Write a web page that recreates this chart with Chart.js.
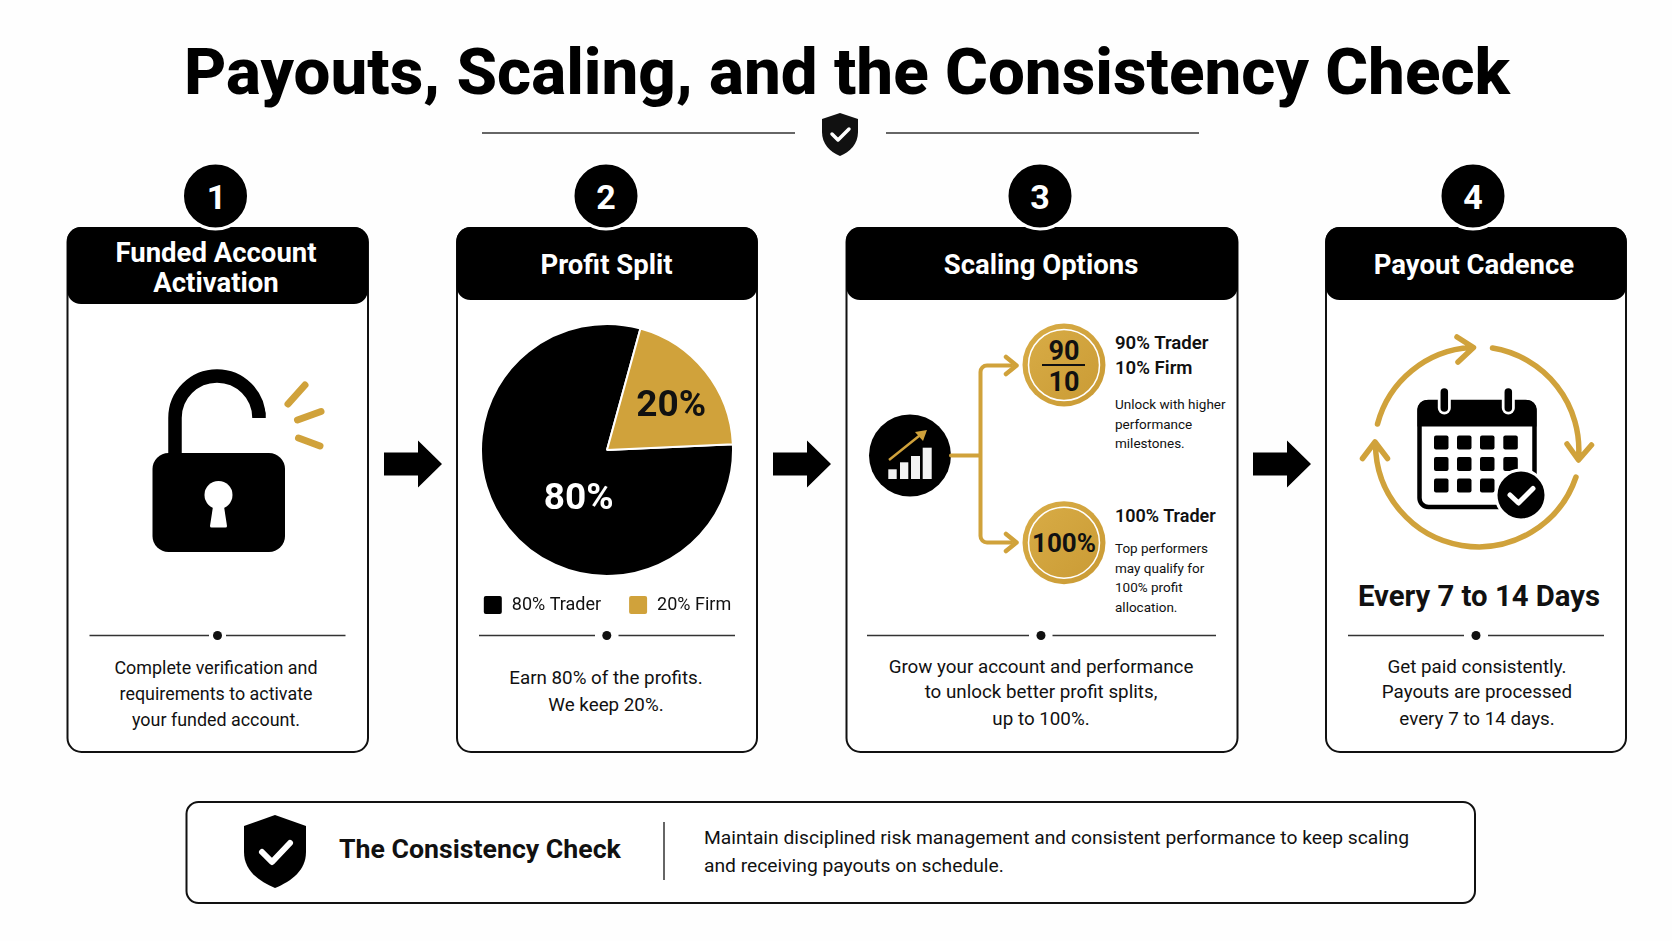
<!DOCTYPE html>
<html><head><meta charset="utf-8">
<script src="https://cdn.jsdelivr.net/npm/chart.js@4"></script>
<style>
html,body{margin:0;padding:0;background:#fff;width:1672px;height:941px;overflow:hidden}
#art{position:absolute;left:0;top:0}
#pieWrap{position:absolute;left:437px;top:322.5px;width:340px;height:311px}
text{font-family:Roboto,Inter,sans-serif;fill:#111;dominant-baseline:central}
.c{text-anchor:middle}
.title{font-size:65.5px;font-weight:800;fill:#000}
.hd{font-size:27.5px;font-weight:700;fill:#fff}
.num{font-size:34px;font-weight:700;fill:#fff}
.d{font-size:18.8px;font-weight:400}
.d1{font-size:17.9px;font-weight:400}
.sb{font-size:18.6px;font-weight:600}
.sm{font-size:13.5px;font-weight:400}
.gold{fill:none;stroke:#D0A23B;stroke-linecap:round;stroke-linejoin:round}
.card{fill:#fff;stroke:#111;stroke-width:2}
.dv{stroke:#333;stroke-width:1.5}
</style></head><body>
<svg id="art" width="1672" height="941" viewBox="0 0 1672 941" xmlns="http://www.w3.org/2000/svg">
<defs><linearGradient id="gg" x1="0" y1="0" x2="1" y2="1"><stop offset="0" stop-color="#D9AD47"/><stop offset="1" stop-color="#C99A34"/></linearGradient></defs>
<rect width="1672" height="941" fill="#fefefe"/>
<text class="title c" x="847" y="71">Payouts, Scaling, and the Consistency Check</text>
<line class="dv" x1="482" y1="133" x2="795" y2="133"/><line class="dv" x1="886" y1="133" x2="1199" y2="133"/>
<path d="M840 113l18 6v13c0 12-8 20-18 24c-10-4-18-12-18-24v-13z" fill="#111"/>
<path d="M832 134l6 6l11-11" fill="none" stroke="#fff" stroke-width="3.5" stroke-linecap="round" stroke-linejoin="round"/>

<!-- cards -->
<rect class="card" x="67.5" y="228" width="300.5" height="524" rx="14"/>
<rect class="card" x="457" y="228" width="300" height="524" rx="14"/>
<rect class="card" x="846.5" y="228" width="391" height="524" rx="14"/>
<rect class="card" x="1326" y="228" width="300" height="524" rx="14"/>
<rect x="67" y="227" width="301" height="77" rx="14" fill="#000"/>
<rect x="456.5" y="227" width="301" height="73" rx="14" fill="#000"/>
<rect x="846" y="227" width="392" height="73" rx="14" fill="#000"/>
<rect x="1325.5" y="227" width="301" height="73" rx="14" fill="#000"/>
<text class="hd c" x="216" y="252">Funded Account</text><text class="hd c" x="216" y="282">Activation</text>
<text class="hd c" x="606.5" y="264">Profit Split</text>
<text class="hd c" x="1041" y="264">Scaling Options</text>
<text class="hd c" x="1474" y="264">Payout Cadence</text>

<!-- badges -->
<g fill="#000" stroke="#fff" stroke-width="3">
<circle cx="215.5" cy="196" r="33"/><circle cx="606" cy="196" r="33"/><circle cx="1040" cy="196" r="33"/><circle cx="1473" cy="196" r="33"/>
</g>
<text class="num c" x="216.5" y="197">1</text><text class="num c" x="606" y="197">2</text><text class="num c" x="1040" y="197">3</text><text class="num c" x="1473" y="197">4</text>

<!-- arrows between cards -->
<g fill="#000">
<path d="M384 452.500h34v-12l24 23.500l-24 23.500v-12h-34z"/>
<path d="M773 452.500h34v-12l24 23.500l-24 23.500v-12h-34z"/>
<path d="M1253 452.500h34v-12l24 23.500l-24 23.500v-12h-34z"/>
</g>

<!-- lock -->
<path d="M175 455V418A42 42 0 0 1 259 418V413" fill="none" stroke="#000" stroke-width="13.500" stroke-linecap="round"/>
<rect x="152.500" y="453" width="132.500" height="99" rx="16" fill="#000"/>
<circle cx="218.500" cy="495" r="14" fill="#fff"/>
<path d="M214 500h9l4 26a1.500 1.500 0 0 1-1.500 1.500h-14a1.500 1.500 0 0 1-1.500-1.500z" fill="#fff"/>
<g class="gold" stroke-width="7"><path class="gold" d="M288 404L305 385M297.500 420L321 411.500M298.500 438L320 446"/></g>

<!-- dividers -->
<g class="dv">
<line x1="89.500" y1="635.500" x2="209" y2="635.500"/><line x1="226" y1="635.500" x2="345.500" y2="635.500"/>
<line x1="479" y1="635.500" x2="595" y2="635.500"/><line x1="618.500" y1="635.500" x2="735" y2="635.500"/>
<line x1="867" y1="635.500" x2="1029" y2="635.500"/><line x1="1052.500" y1="635.500" x2="1216" y2="635.500"/>
<line x1="1348" y1="635.500" x2="1464" y2="635.500"/><line x1="1488" y1="635.500" x2="1604" y2="635.500"/>
</g>
<g fill="#111"><circle cx="217.500" cy="635.500" r="4.500"/><circle cx="606.800" cy="635.500" r="4.500"/><circle cx="1041" cy="635.500" r="4.500"/><circle cx="1476" cy="635.500" r="4.500"/></g>

<text class="d1 c" x="216" y="667.500">Complete verification and</text>
<text class="d1 c" x="216" y="693">requirements to activate</text>
<text class="d1 c" x="216" y="719">your funded account.</text>
<text class="d c" x="606" y="678">Earn 80% of the profits.</text>
<text class="d c" x="606" y="705">We keep 20%.</text>
<text class="d c" x="1041" y="666.500">Grow your account and performance</text>
<text class="d c" x="1041" y="692">to unlock better profit splits,</text>
<text class="d c" x="1041" y="719">up to 100%.</text>
<text class="d c" x="1477" y="666.500">Get paid consistently.</text>
<text class="d c" x="1477" y="692">Payouts are processed</text>
<text class="d c" x="1477" y="719">every 7 to 14 days.</text>

<!-- scaling -->
<circle cx="910" cy="455.500" r="41" fill="#000"/>
<g fill="#f3f3f3"><rect x="888.300" y="469.300" width="8.400" height="9.700"/><rect x="900" y="462.300" width="8.300" height="16.700"/><rect x="911" y="456" width="9" height="23"/><rect x="922.700" y="447.700" width="9" height="31.300"/></g>
<path d="M889 460L924 432" fill="none" stroke="#D0A23B" stroke-width="2.500"/>
<path d="M927 430L915 432L923 441z" fill="#D0A23B"/>
<path class="gold" stroke-width="4" d="M951 455.500H980.500M1011 365.500H987a6.500 6.500 0 0 0-6.500 6.500V536a6.500 6.500 0 0 0 6.500 6.500H1011"/>
<path class="gold" stroke-width="4.500" d="M1006 357L1016.500 365.500L1006 374M1006 534L1016.500 542.500L1006 551"/>
<circle cx="1064" cy="365" r="41.500" fill="url(#gg)"/><circle cx="1064" cy="365" r="35.500" fill="none" stroke="#fff" stroke-width="1.500"/>
<circle cx="1064" cy="542.700" r="41.500" fill="url(#gg)"/><circle cx="1064" cy="542.700" r="35.500" fill="none" stroke="#fff" stroke-width="1.500"/>
<text class="c" x="1064" y="350.500" style="font-size:27px;font-weight:700">90</text>
<line x1="1042" y1="365" x2="1085" y2="365" stroke="#111" stroke-width="1.800"/>
<text class="c" x="1064" y="381.500" style="font-size:27px;font-weight:700">10</text>
<text class="c" x="1064" y="543" style="font-size:26px;font-weight:700">100%</text>
<text class="sb" x="1115" y="343">90% Trader</text>
<text class="sb" x="1115" y="368">10% Firm</text>
<text class="sm" x="1115" y="403.500">Unlock with higher</text>
<text class="sm" x="1115" y="423.500">performance</text>
<text class="sm" x="1115" y="443">milestones.</text>
<text class="sb" x="1115" y="515.500" style="font-size:18px">100% Trader</text>
<text class="sm" x="1115" y="548">Top performers</text>
<text class="sm" x="1115" y="567.500">may qualify for</text>
<text class="sm" x="1115" y="587">100% profit</text>
<text class="sm" x="1115" y="606.500">allocation.</text>

<!-- cadence -->
<g class="gold" stroke-width="5.500">
<path class="gold" stroke-width="5.500" d="M1377.500 424A103 103 0 0 1 1471 347.500M1457 337L1473.500 347.500L1458 362"/>
<path class="gold" stroke-width="5.500" d="M1492.500 348A103 103 0 0 1 1578.500 458M1567 444L1578.500 460L1591.500 445"/>
<path class="gold" stroke-width="5.500" d="M1576 477A103 103 0 0 1 1375.500 444M1362.500 458.500L1375 442L1387.500 458.500"/>
</g>
<rect x="1419.500" y="402" width="115" height="105" rx="9" fill="#fff" stroke="#000" stroke-width="4.500"/>
<path d="M1417.500 426.500V409a9 9 0 0 1 9-9h101a9 9 0 0 1 9 9v17.500z" fill="#000"/>
<g stroke="#fff" stroke-width="13" stroke-linecap="round"><line x1="1444.300" y1="394" x2="1444.300" y2="408"/><line x1="1508.300" y1="394" x2="1508.300" y2="408"/></g>
<g stroke="#000" stroke-width="7.500" stroke-linecap="round"><line x1="1444.300" y1="392" x2="1444.300" y2="408"/><line x1="1508.300" y1="392" x2="1508.300" y2="408"/></g>
<g fill="#000">
<rect x="1434" y="435.500" width="14.500" height="14" rx="2"/><rect x="1457" y="435.500" width="14.500" height="14" rx="2"/><rect x="1480" y="435.500" width="14.500" height="14" rx="2"/><rect x="1503.300" y="435.500" width="14.500" height="14" rx="2"/>
<rect x="1434" y="457" width="14.500" height="14" rx="2"/><rect x="1457" y="457" width="14.500" height="14" rx="2"/><rect x="1480" y="457" width="14.500" height="14" rx="2"/><rect x="1503.300" y="457" width="14.500" height="14" rx="2"/>
<rect x="1434" y="478.500" width="14.500" height="14" rx="2"/><rect x="1457" y="478.500" width="14.500" height="14" rx="2"/><rect x="1480" y="478.500" width="14.500" height="14" rx="2"/>
</g>
<circle cx="1521" cy="495" r="25" fill="#000" stroke="#fff" stroke-width="3"/>
<path d="M1510 495L1518.500 503L1533 488.500" fill="none" stroke="#fff" stroke-width="5" stroke-linecap="round" stroke-linejoin="round"/>
<text class="c" x="1479" y="595.500" style="font-size:29.300px;font-weight:700">Every 7 to 14 Days</text>

<!-- bottom -->
<rect x="186.500" y="802" width="1288.500" height="101" rx="12" fill="#fff" stroke="#111" stroke-width="2"/>
<path d="M275 815L306 826V852C306 870 292 881 275 888C258 881 244 870 244 852V826z" fill="#000"/>
<path d="M262 852L272 862L290 843" fill="none" stroke="#fff" stroke-width="6" stroke-linecap="round" stroke-linejoin="round"/>
<text x="339" y="849" style="font-size:26.700px;font-weight:700">The Consistency Check</text>
<line x1="664" y1="822" x2="664" y2="880" stroke="#333" stroke-width="1.500"/>
<text x="704" y="837" style="font-size:19.250px">Maintain disciplined risk management and consistent performance to keep scaling</text>
<text x="704" y="865" style="font-size:19.250px">and receiving payouts on schedule.</text>
</svg>
<div id="pieWrap"><canvas id="pie"></canvas></div>
<script>
const categories = ['80% Trader', '20% Firm'];
const shareValues = [80, 20];
const sliceLabels = ['80%', '20%'];
const sliceColors = ['#000000', '#D0A23B'];
const labelColors = ['#ffffff', '#111111'];
const labelNudge = [[21, 10.5], [15, -3.5]];

const sliceText = {
  id: 'sliceText',
  afterLayout(chart) { chart.legend.top -= 9; },
  afterDatasetsDraw(chart) {
    const { ctx } = chart;
    chart.getDatasetMeta(0).data.forEach((arc, i) => {
      const p = arc.getCenterPoint();
      ctx.save();
      ctx.font = '700 37px Roboto, Inter, sans-serif';
      ctx.fillStyle = labelColors[i];
      ctx.textAlign = 'center';
      ctx.textBaseline = 'middle';
      ctx.fillText(sliceLabels[i], p.x + labelNudge[i][0], p.y + labelNudge[i][1]);
      ctx.restore();
    });
  }
};

new Chart(document.getElementById('pie'), {
  type: 'pie',
  data: {
    labels: categories,
    datasets: [{
      data: shareValues,
      backgroundColor: sliceColors,
      borderColor: '#ffffff',
      borderWidth: 2
    }]
  },
  options: {
    responsive: true,
    maintainAspectRatio: false,
    animation: false,
    rotation: 87.4,
    layout: { padding: 0 },
    plugins: {
      tooltip: { enabled: false },
      legend: {
        display: true,
        position: 'bottom',
        labels: {
          boxWidth: 20,
          boxHeight: 20,
          padding: 27,
          color: '#111',
          useBorderRadius: true,
          borderRadius: 3,
          font: { family: 'Roboto, Inter, sans-serif', size: 18 }
        }
      }
    }
  },
  plugins: [sliceText]
});
</script>
</body></html>
